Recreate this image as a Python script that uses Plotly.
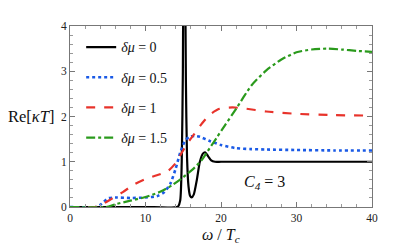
import plotly.graph_objects as go

# delta mu = 0 (black solid)
x0 = [0, 5, 10, 14.3, 14.6, 14.8, 14.95, 15.05, 15.15, 15.25, 15.35, 15.5, 15.7, 15.9, 16.1, 16.4, 16.8, 17.2, 17.6, 17.9, 18.3, 18.7, 19.2, 20, 25, 30, 35, 40]
y0 = [0, 0, 0, 0.01, 0.15, 1.0, 3.0, 6.5, 8.0, 5.5, 2.8, 1.1, 0.45, 0.25, 0.21, 0.28, 0.6, 1.0, 1.18, 1.21, 1.12, 1.03, 1.0, 1.0, 1.0, 1.0, 1.0, 1.0]

# delta mu = 0.5 (blue dotted)
x1 = [0, 3.5, 4.2, 5.0, 6, 8, 10, 11.5, 12.5, 13.3, 14.0, 14.6, 15.2, 15.8, 16.5, 17.2, 18.5, 20, 22, 24, 26, 30, 35, 40]
y1 = [0, 0, 0.07, 0.19, 0.21, 0.2, 0.21, 0.24, 0.33, 0.52, 0.85, 1.2, 1.45, 1.55, 1.57, 1.55, 1.46, 1.37, 1.3, 1.28, 1.27, 1.26, 1.25, 1.25]

# delta mu = 1 (red dashed)
x2 = [0, 3.3, 4.5, 5.5, 7, 8.5, 10, 11.5, 13, 14, 14.8, 15.6, 16.5, 17.5, 18.5, 19.8, 21.5, 23, 26, 30, 35, 40]
y2 = [0, 0, 0.08, 0.18, 0.33, 0.5, 0.62, 0.7, 0.8, 0.97, 1.2, 1.42, 1.62, 1.85, 2.04, 2.17, 2.2, 2.18, 2.11, 2.06, 2.03, 2.02]

# delta mu = 1.5 (green dash-dot)
x3 = [0, 4.8, 6, 8, 10, 12, 13.5, 15, 16.5, 17.5, 18.5, 19.5, 20.5, 22, 24, 26, 28, 30, 32, 34, 36, 38, 40]
y3 = [0, 0, 0.06, 0.14, 0.22, 0.34, 0.48, 0.66, 0.87, 1.05, 1.3, 1.55, 1.8, 2.17, 2.68, 3.02, 3.26, 3.42, 3.48, 3.5, 3.48, 3.45, 3.43]

series = [
    (x0, y0, "<i>δμ</i> = 0", "#000000", "solid", 2.2),
    (x1, y1, "<i>δμ</i> = 0.5", "#1a5ae6", "dot", 2.6),
    (x2, y2, "<i>δμ</i> = 1", "#e8332b", "dash", 2.2),
    (x3, y3, "<i>δμ</i> = 1.5", "#2a9a1c", "dashdot", 2.2),
]

FONT = "Liberation Serif, Times New Roman, serif"

fig = go.Figure()
for i, (xs, ys, name, col, dash, w) in enumerate(series):
    fig.add_trace(go.Scatter(
        x=xs, y=ys, mode="lines", name=name, legendgroup=str(i),
        line=dict(color=col, dash=dash, width=w, shape="spline", smoothing=0.6),
    ))

axis_common = dict(
    showline=True, linecolor="#777777", linewidth=1, mirror="ticks",
    ticks="inside", ticklen=5, tickcolor="#777777", showgrid=False, zeroline=False,
    tickfont=dict(family=FONT, size=11.5, color="#222222"),
)

fig.update_xaxes(range=[0, 40], tick0=0, dtick=10,
                 minor=dict(dtick=2, ticks="inside", ticklen=3, tickcolor="#999999", showgrid=False),
                 **axis_common)
fig.update_yaxes(range=[0, 4], tick0=0, dtick=1,
                 minor=dict(dtick=0.2, ticks="inside", ticklen=3, tickcolor="#999999", showgrid=False),
                 **axis_common)

fig.add_annotation(text="Re[<i>κT</i>]", xref="paper", yref="paper", x=-0.045, y=0.5,
                   xanchor="right", showarrow=False, font=dict(family=FONT, size=16.5, color="#111111"))
fig.add_annotation(text="<i>ω</i> / <i>T<sub>c</sub></i>", xref="x", yref="paper", x=20, y=-0.095,
                   yanchor="top", showarrow=False, font=dict(family=FONT, size=16, color="#111111"))
fig.add_annotation(text="<i>C<sub>4</sub></i> = 3", xref="x", yref="y", x=25.8, y=0.55,
                   showarrow=False, font=dict(family=FONT, size=16, color="#111111"))

fig.update_layout(
    width=407, height=242,
    margin=dict(l=62, r=43, t=12, b=43),
    paper_bgcolor="white", plot_bgcolor="white",
    showlegend=True,
    legend=dict(x=0.037, y=0.97, xanchor="left", yanchor="top", itemwidth=30,
                bgcolor="rgba(0,0,0,0)", tracegroupgap=9,
                font=dict(family=FONT, size=14, color="#111111")),
)

fig.write_html("out.html")
